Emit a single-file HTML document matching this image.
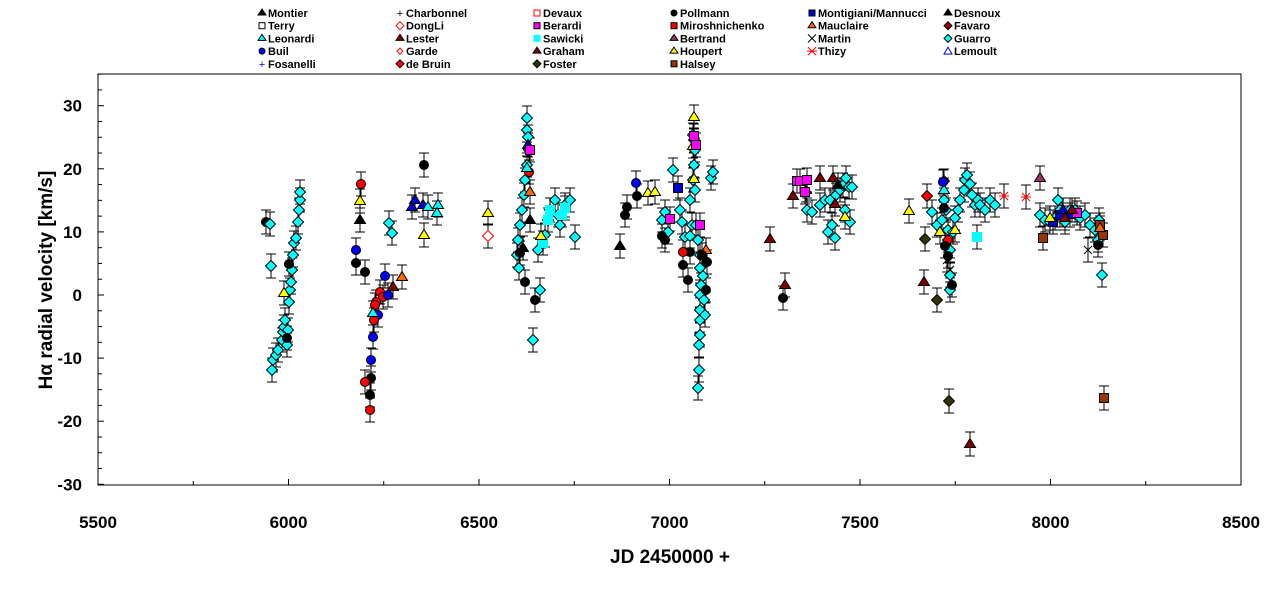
<!DOCTYPE html>
<html><head><meta charset="utf-8"><style>
body{margin:0;background:#fff;width:1276px;height:585px;overflow:hidden}
svg{font-family:"Liberation Sans",Arial,sans-serif;font-weight:bold}
</style></head><body>
<svg id="s" width="1276" height="585" xmlns="http://www.w3.org/2000/svg">
<rect x="98" y="74" width="1143" height="411" fill="none" stroke="#000" stroke-width="1"/>
<g id="ax"></g><g id="pts"></g><g id="leg" font-size="11"></g>
<text x="670" y="563" font-size="19" text-anchor="middle">JD 2450000 +</text>
<text transform="translate(52,280) rotate(-90)" font-size="19" text-anchor="middle">Hα  radial velocity [km/s]</text>
</svg>
<script>
const NS="http://www.w3.org/2000/svg";
function el(p,t,a,txt){const e=document.createElementNS(NS,t);for(const k in a)e.setAttribute(k,a[k]);if(txt!==undefined)e.textContent=txt;p.appendChild(e);return e;}
const ax=document.getElementById('ax');
for(let v=5500;v<=8500;v+=250){const x=98+(v-5500)*1143/3000;const major=v%500==0;
 el(ax,'line',{x1:x,x2:x,y1:485,y2:major?479:481,stroke:'#000'});
 if(major)el(ax,'text',{x:x,y:528,'font-size':17,'text-anchor':'middle'},v);}
for(let v=-30;v<=35;v+=2.5){const y=295-v*6.31;if(y<74)break;const major=v%10==0;
 el(ax,'line',{x1:98,x2:major?104:102,y1:y,y2:y,stroke:'#000'});
 if(major)el(ax,'text',{x:82,y:y+6,'font-size':17,'text-anchor':'end'},v);}
function mark(g,t,x,y,sz){const s=sz||4.5;const st={stroke:'#000','stroke-width':1};
 const c={c:'#00ffff',k:'#000',b:'#0000ff',r:'#ff0000',y:'#ffff00',K:'#000',B:'#0000cc',C:'#00ffff',o:'#ff6600',m:'#800000',s:'#00ffff',M:'#ff00ff',R:'#ff0000',h:'#993300',f:'#333300',d:'#ff0000',p:'#993366',w:'#fff',q:'#0000cc',e:'#fff',F:'#990000'}[t];
 if('cdfwF'.includes(t)){el(g,'polygon',Object.assign({points:`${x},${y-s-1} ${x+s+1},${y} ${x},${y+s+1} ${x-s-1},${y}`,fill:c},st,t=='w'?{stroke:'#f00'}:{}));}
 else if('kbr'.includes(t))el(g,'circle',Object.assign({cx:x,cy:y,r:s,fill:c},st));
 else if('yKBComp'.includes(t))el(g,'polygon',Object.assign({points:`${x},${y-s-1} ${x+s+1},${y+s-1} ${x-s-1},${y+s-1}`,fill:c},st));
 else if('sMRhqe'.includes(t))el(g,'rect',Object.assign({x:x-s,y:y-s,width:2*s,height:2*s,fill:c},st,t=='s'?{stroke:'#00ffff'}:{}));
 else if(t=='x'){el(g,'path',{d:`M${x-4},${y-4}L${x+4},${y+4}M${x+4},${y-4}L${x-4},${y+4}`,stroke:'#000'});}
 else if(t=='X'){el(g,'path',{d:`M${x-4},${y-4}L${x+4},${y+4}M${x+4},${y-4}L${x-4},${y+4}M${x-5},${y}L${x+5},${y}`,stroke:'#f00'});}
}
const P=`k266,222 c270,224 c271,266 c272,370 c273,360 c276,355 c278,350 c282,340 c283,332 c284,327 c285,320 c287,345 c288,330 c289,302 c290,290 c291,282 c292,270 c293,255 c294,243 c296,238 c298,222 c299,210 c300,200 c300,192 k289,264 y284,293 k287,338
r361,184 y360,201 K360,220 b356,250 k356,263 k365,272 b385,276 m393,287 o402,277 r380,292 r383,297 b388,295 r376,302 r375,305 b378,315 r374,320 C373,313 b373,337 b371,360 k371,378 r365,382 k370,395 r370,410 c389,223 c392,233 B412,207 B415,200 B423,205 C428,207 C438,205 C437,213 k424,165 y424,235
w488,236 y488,213
c527,118 c527,130 c528,137 c529,150 c527,165 c525,180 c524,195 c522,210 c520,225 c518,240 c517,255 c519,268 c533,340 K523,248 k520,253 k525,282 k535,300 r529,172 o530,192 C527,168 B528,145 K530,220 c540,290 c538,250 c545,235 c548,220 c550,210 c555,200 c558,215 c560,225 c565,205 c570,200 c575,237 s543,243 s548,220 s550,210 s562,215 s565,208 M530,150 y541,236
K620,246 k625,215 k627,207 k637,196 b636,183 y648,193 y655,192 c662,220 c665,212 c668,232 c673,170 c680,210 c682,222 c685,237 k662,236 k665,240 k683,265 k690,252 r683,252 M670,219 q678,188 c690,236 c692,225 c690,200 c695,190 c693,180 c694,165 c695,150 c694,140 c693,135 c696,225 c698,240 c700,255 c700,268 c701,285 c700,295 c700,310 c700,320 c700,335 c699,345 c699,370 c698,388 c703,276 c704,300 c705,315 y694,117 y693,146 y694,179 M694,136 M696,145 M700,225 o706,250 k688,280 k702,255 k707,262 k706,290 c711,178 c713,172
m770,239 m785,285 k783,298
m793,196 m806,190 M797,181 M800,181 M805,192 M807,180 c807,210 c812,212 c820,205 c825,200 c830,200 c836,195 c840,190 c843,185 c846,178 c850,222 c845,210 c828,232 c832,225 c835,238 c849,187 m820,178 m833,178 m835,204 K838,185 y845,217 c852,187
y909,211 f925,239 f937,300 f949,401 m924,282 m970,444 d927,196 d944,181 d948,240 c932,212 c937,225 c942,220 c944,200 c946,210 c948,230 c950,250 c950,275 c950,290 c953,232 c955,218 c958,210 c960,200 c964,190 c965,180 c967,175 c970,184 c972,195 c975,205 c978,200 c980,205 c985,210 c990,200 c995,205 k944,208 k945,246 k948,256 k952,285 C944,190 b943,182 y940,232 y955,230 x950,270 x947,260 s977,237
X1004,196 X1026,197 p1040,178 c1040,215 c1045,220 c1050,222 c1055,218 c1058,200 c1060,210 c1062,215 c1065,222 c1070,210 c1075,210 c1080,218 c1085,215 c1090,225 c1095,230 c1098,240 c1102,275 c1099,220 q1053,222 q1060,215 B1063,210 B1070,215 M1077,213 y1050,218 m1065,218 m1072,210 h1043,238 h1100,225 h1103,235 h1104,398 x1088,250 k1098,245 o1100,228`;
const g=document.getElementById('pts');
const items=P.trim().split(/\s+/).map(s=>{const t=s[0];const [x,y]=s.slice(1).split(',').map(Number);return {t,x,y};});
items.forEach(o=>{el(g,'path',{d:`M${o.x},${o.y-12}V${o.y+12}M${o.x-5},${o.y-12}H${o.x+5}M${o.x-5},${o.y+12}H${o.x+5}`,stroke:'#000','stroke-width':1});});
items.forEach(o=>mark(g,o.t,o.x,o.y));
const L=document.getElementById('leg');
const cols=[262,400,537,674,812,948];
const leg=[
[['K','Montier'],['e','Terry'],['C','Leonardi'],['b','Buil'],['+b','Fosanelli']],
[['+k','Charbonnel'],['w','DongLi'],['m','Lester'],['wr','Garde'],['d','de Bruin']],
[['er','Devaux'],['M','Berardi'],['s','Sawicki'],['m','Graham'],['f','Foster']],
[['k','Pollmann'],['R','Miroshnichenko'],['p','Bertrand'],['y','Houpert'],['h','Halsey']],
[['q','Montigiani/Mannucci'],['o','Mauclaire'],['x','Martin'],['X','Thizy']],
[['K','Desnoux'],['F','Favaro'],['c','Guarro'],['tb','Lemoult']]];
leg.forEach((col,i)=>col.forEach((it,j)=>{const x=cols[i],y=13+j*12.7;const t=it[0];
 if(t[0]=='+')el(L,'text',{x:x,y:y+4,'font-size':11,'text-anchor':'middle',fill:t[1]=='b'?'#00f':'#000','font-weight':'normal'},'+');
 else if(t=='wr')el(L,'polygon',{points:`${x},${y-3} ${x+3},${y} ${x},${y+3} ${x-3},${y}`,fill:'#fff',stroke:'#f00'});
 else if(t=='er')el(L,'rect',{x:x-3,y:y-3,width:6,height:6,fill:'#fff',stroke:'#f00'});
 else if(t=='tb')el(L,'polygon',{points:`${x},${y-4} ${x+4},${y+3} ${x-4},${y+3}`,fill:'#fff',stroke:'#00f'});
 else mark(L,t,x,y,3);
 el(L,'text',{x:x+6,y:y+4},it[1]);}));
</script>
</body></html>
